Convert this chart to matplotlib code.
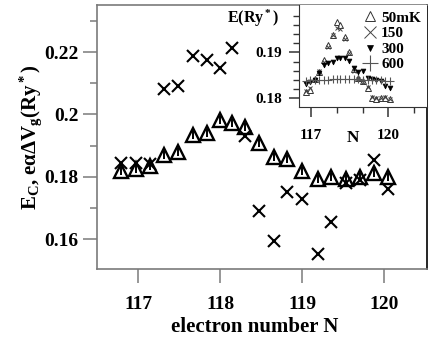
import matplotlib
matplotlib.use('Agg')
from matplotlib import pyplot as plt
from matplotlib.ticker import FixedLocator, FuncFormatter

# main panel: electron number, E_c (triangles) and e*alpha*dV_g (crosses)
N_main = [116.79, 116.97, 117.15, 117.32, 117.49, 117.67, 117.84, 118.00, 118.14, 118.30,
          118.47, 118.66, 118.82, 119.00, 119.19, 119.35, 119.53, 119.70, 119.88, 120.05]
E_c = [0.1819, 0.1825, 0.1833, 0.1870, 0.1880, 0.1935, 0.1940, 0.1981, 0.1971, 0.1960,
       0.1907, 0.1864, 0.1858, 0.1820, 0.1794, 0.1799, 0.1794, 0.1799, 0.1812, 0.1799]
eadV = [0.1844, 0.1844, 0.1842, 0.2081, 0.2091, 0.2188, 0.2175, 0.2148, 0.2212, 0.1932,
        0.1691, 0.1595, 0.1751, 0.1728, 0.1551, 0.1654, 0.1780, 0.1788, 0.1855, 0.1760]

# inset: E(Ry*) at several temperatures
N_inset = [116.80, 116.97, 117.15, 117.32, 117.49, 117.67, 117.84, 118.00, 118.14, 118.30,
           118.47, 118.66, 118.82, 119.00, 119.19, 119.35, 119.53, 119.70, 119.88, 120.05]
E_50mK = [0.1814, 0.1818, 0.1843, 0.1858, 0.1883, 0.1916, 0.1938, 0.1967, 0.1959, 0.1934,
          0.1901, 0.1863, 0.1845, 0.1838, 0.1822, 0.1800, 0.1799, 0.1800, 0.1801, 0.1798]
E_150 = [0.1816, 0.1822, 0.1840, 0.1860, 0.1880, 0.1912, 0.1938, 0.1952, 0.1950, 0.1930,
         0.1898, 0.1860, 0.1843, 0.1836, 0.1825, 0.1802, 0.1801, 0.1800, 0.1802, 0.1799]
E_300 = [0.1830, 0.1836, 0.1840, 0.1855, 0.1872, 0.1877, 0.1880, 0.1887, 0.1888, 0.1887,
         0.1882, 0.1866, 0.1858, 0.1860, 0.1845, 0.1842, 0.1840, 0.1838, 0.1826, 0.1822]
E_600 = [0.1838, 0.1839, 0.1840, 0.1840, 0.1840, 0.1840, 0.1841, 0.1841, 0.1842, 0.1843,
         0.1843, 0.1842, 0.1841, 0.1840, 0.1840, 0.1840, 0.1839, 0.1839, 0.1838, 0.1838]

main_yticks = [0.16, 0.18, 0.20, 0.22]
main_xticks = [117, 118, 119, 120]

plt.rcParams['font.family'] = ['Liberation Serif', 'DejaVu Serif']
plt.rcParams['font.weight'] = 'bold'
plt.rcParams['mathtext.fontset'] = 'custom'
plt.rcParams['mathtext.rm'] = 'Liberation Serif:bold'
plt.rcParams['mathtext.it'] = 'Liberation Serif:italic:bold'
plt.rcParams['mathtext.bf'] = 'Liberation Serif:bold'
plt.rcParams['mathtext.default'] = 'rm'

fig = plt.figure(figsize=(4.36, 3.49), dpi=100)
ax = fig.add_axes([0.2225, 0.2292, 0.7569, 0.7565])

ax.plot(N_main, E_c, ls='none', marker='^', ms=10, mfc='white', mec='black', mew=1.7)
ax.plot(N_main, E_c, ls='none', marker='|', ms=6, mec='black', mew=1.4)
ax.plot(N_main, eadV, ls='none', marker='x', ms=8.5, mec='black', mew=1.5)

ax.set_xlim(116.5, 120.52)
ax.set_ylim(0.1504, 0.2351)
ax.xaxis.set_major_locator(FixedLocator(main_xticks))
ax.yaxis.set_major_locator(FixedLocator(main_yticks))
ax.yaxis.set_minor_locator(FixedLocator([0.17, 0.19, 0.21, 0.23]))
ax.yaxis.set_major_formatter(FuncFormatter(lambda v, p: '{:g}'.format(round(v, 3))))

grey = '#7a7a7a'
for side in ['left', 'bottom', 'top']:
    ax.spines[side].set_color(grey)
ax.spines['right'].set_color('black')
for sp in ax.spines.values():
    sp.set_linewidth(1.2)

ax.tick_params(axis='y', which='major', length=10, width=1.1, color=grey, pad=3.5, labelsize=14)
ax.tick_params(axis='y', which='minor', length=5, width=1.1, color=grey)
ax.tick_params(axis='x', which='major', length=10, width=1.1, color=grey, pad=9.5, labelsize=14)

ax.set_xlabel('electron number N', fontsize=15, fontweight='bold')
ax.xaxis.set_label_coords(0.479, -0.18)
ax.set_ylabel(r'E$_C$, eαΔV$_g$(Ry$^*$)', fontsize=15, fontweight='bold')
ax.yaxis.set_label_coords(-0.16, 0.5)

# inset
axin = fig.add_axes([0.6858, 0.6934, 0.2936, 0.2923])
axin.plot(N_inset, E_50mK, ls='none', marker='^', ms=4, mfc='white', mec='#333333', mew=0.7,
          label='50mK')
axin.plot(N_inset, E_150, ls='none', marker='x', ms=3.5, mec='#444444', mew=0.7, label='150')
axin.plot(N_inset, E_300, ls='none', marker='v', ms=3.5, mfc='black', mec='black', mew=0.5,
          label='300')
axin.plot(N_inset, E_600, ls='none', marker='+', ms=6, mec='#555555', mew=0.8, label='600')

axin.set_xlim(116.53, 121.5)
axin.set_ylim(0.1781, 0.2003)
axin.xaxis.set_major_locator(FixedLocator([117, 120]))
axin.xaxis.set_minor_locator(FixedLocator([118, 119, 121]))
axin.yaxis.set_major_locator(FixedLocator([0.18, 0.19]))
axin.yaxis.set_minor_locator(FixedLocator([0.182, 0.184, 0.186, 0.188, 0.192, 0.194, 0.196, 0.198]))
axin.yaxis.set_major_formatter(FuncFormatter(lambda v, p: '{:.2f}'.format(v)))
axin.spines['top'].set_visible(False)
axin.spines['right'].set_visible(False)
axin.spines['left'].set_color('#333333')
axin.spines['bottom'].set_color('#333333')
axin.tick_params(axis='both', which='major', length=7, width=1.1, color='#333333', labelsize=11)
axin.tick_params(axis='y', which='major', pad=5)
axin.tick_params(axis='x', which='major', pad=9)
axin.tick_params(axis='both', which='minor', length=4.5, width=1.0, color='#333333')
axin.set_xlabel('N', fontsize=12.5, fontweight='bold')
axin.xaxis.set_label_coords(0.42, -0.23)
axin.text(-0.56, 0.87, r'E(Ry$^*$)', transform=axin.transAxes, fontsize=11.5,
          fontweight='bold', va='center')

leg = axin.legend(loc='upper right', frameon=False, handlelength=0.9, handletextpad=0.3,
                  labelspacing=0.12, borderpad=0.2, borderaxespad=0.2,
                  prop={'weight': 'bold', 'size': 11})
for h, size in zip(leg.legend_handles, [7.5, 8, 5, 11]):
    h.set_markersize(size)

fig.savefig('out.png', dpi=100)
